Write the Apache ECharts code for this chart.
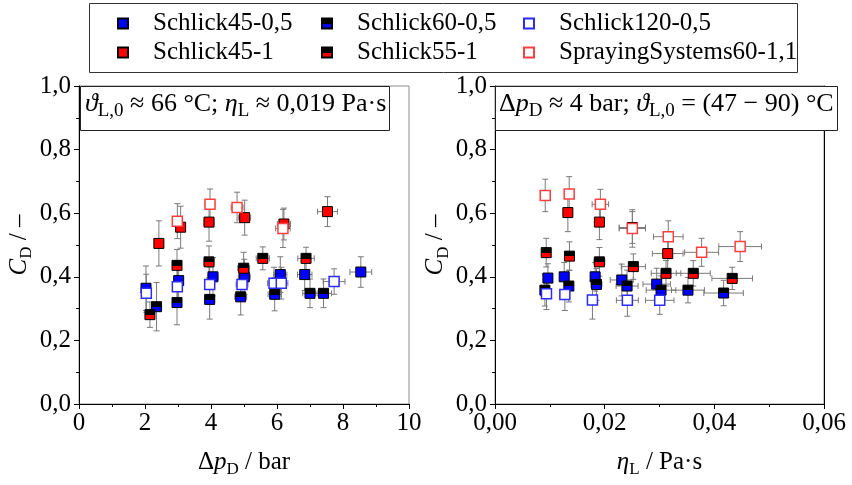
<!DOCTYPE html>
<html>
<head>
<meta charset="utf-8">
<script src="https://cdn.jsdelivr.net/npm/echarts@6/dist/echarts.min.js"></script>
<style>
  html, body { margin: 0; padding: 0; background: #fff; }
  #chart { width: 852px; height: 485px; }
</style>
</head>
<body>
<div id="chart"></div>
<script>
// Each point: [x, C_D, x uncertainty (±), C_D uncertainty (±)]

// Left panel: drag coefficient over pressure drop Δp_D in bar
const dp_S45_05 = [[2.03, 0.364, 0.10, 0.070], [3.02, 0.388, 0.12, 0.060], [4.06, 0.400, 0.15, 0.060], [5.01, 0.400, 0.18, 0.055], [6.10, 0.407, 0.20, 0.056], [6.84, 0.407, 0.22, 0.050], [8.54, 0.415, 0.33, 0.048]];
const dp_S60_05 = [[2.35, 0.306, 0.10, 0.076], [2.97, 0.319, 0.12, 0.070], [3.96, 0.329, 0.15, 0.062], [4.90, 0.337, 0.18, 0.057], [5.93, 0.345, 0.20, 0.052], [7.00, 0.348, 0.22, 0.045], [7.41, 0.348, 0.24, 0.045]];
const dp_S120_05 = [[2.04, 0.348, 0.10, 0.060], [2.98, 0.369, 0.12, 0.060], [3.96, 0.376, 0.15, 0.055], [4.94, 0.376, 0.18, 0.050], [5.91, 0.380, 0.20, 0.050], [6.13, 0.380, 0.20, 0.050], [7.73, 0.385, 0.33, 0.040]];
const dp_S45_1 = [[2.42, 0.505, 0.12, 0.071], [3.08, 0.556, 0.12, 0.066], [3.94, 0.572, 0.15, 0.060], [5.02, 0.586, 0.18, 0.055], [6.21, 0.566, 0.20, 0.050], [7.53, 0.605, 0.30, 0.047]];
const dp_S55_1 = [[2.15, 0.281, 0.10, 0.040], [2.97, 0.436, 0.12, 0.050], [3.94, 0.447, 0.15, 0.050], [4.99, 0.427, 0.18, 0.050], [5.57, 0.458, 0.20, 0.036], [6.88, 0.458, 0.25, 0.035]];
const dp_SS60_11 = [[2.98, 0.575, 0.12, 0.055], [3.97, 0.628, 0.15, 0.048], [4.79, 0.618, 0.18, 0.048], [6.18, 0.552, 0.22, 0.060]];

// Right panel: drag coefficient over liquid viscosity η_L in Pa·s
const eta_S45_05 = [[0.00965, 0.396, 0.0003, 0.045], [0.01262, 0.400, 0.0004, 0.045], [0.01826, 0.400, 0.0008, 0.045], [0.02312, 0.390, 0.0021, 0.050], [0.02949, 0.377, 0.0025, 0.050]];
const eta_S60_05 = [[0.00910, 0.358, 0.0003, 0.050], [0.01347, 0.371, 0.0004, 0.050], [0.01850, 0.376, 0.0010, 0.050], [0.02409, 0.371, 0.0020, 0.050], [0.03028, 0.358, 0.0027, 0.045], [0.03519, 0.358, 0.0030, 0.040], [0.04169, 0.349, 0.0036, 0.040]];
const eta_S120_05 = [[0.00939, 0.347, 0.0003, 0.050], [0.01274, 0.344, 0.0004, 0.050], [0.01777, 0.327, 0.0008, 0.060], [0.02414, 0.326, 0.0020, 0.050], [0.03004, 0.326, 0.0026, 0.044]];
const eta_S45_1 = [[0.01329, 0.602, 0.0004, 0.060], [0.01904, 0.572, 0.0008, 0.055], [0.02505, 0.555, 0.0024, 0.050], [0.03150, 0.473, 0.0028, 0.050]];
const eta_S55_1 = [[0.00934, 0.476, 0.0003, 0.045], [0.01358, 0.465, 0.0004, 0.045], [0.01904, 0.447, 0.0010, 0.045], [0.02523, 0.432, 0.0022, 0.040], [0.03119, 0.411, 0.0027, 0.040], [0.03616, 0.411, 0.0031, 0.040], [0.04326, 0.395, 0.0037, 0.035]];
const eta_SS60_11 = [[0.00916, 0.656, 0.0003, 0.051], [0.01353, 0.660, 0.0004, 0.055], [0.01922, 0.628, 0.0015, 0.047], [0.02505, 0.552, 0.0024, 0.059], [0.03160, 0.526, 0.0027, 0.050], [0.03768, 0.477, 0.0031, 0.044], [0.04471, 0.495, 0.0039, 0.047]];

const nozzles = ['Schlick45-0,5', 'Schlick60-0,5', 'Schlick120-0,5', 'Schlick45-1', 'Schlick55-1', 'SprayingSystems60-1,1'];
const leftData = [dp_S45_05, dp_S60_05, dp_S120_05, dp_S45_1, dp_S55_1, dp_SS60_11];
const rightData = [eta_S45_05, eta_S60_05, eta_S120_05, eta_S45_1, eta_S55_1, eta_SS60_11];

const dpTicks = { min: 0, max: 10, interval: 2 };
const etaTicks = { min: 0, max: 0.06, interval: 0.02 };
const cdTicks = { min: 0, max: 1, interval: 0.2 };

const SERIF = 'Liberation Serif';
const BLUE = '#0000ff';
const RED = '#ff0000';

// upper half black, lower half coloured
function halfFill(c) {
  return {
    type: 'linear', x: 0, y: 0, x2: 0, y2: 1,
    colorStops: [
      { offset: 0, color: '#000' }, { offset: 0.52, color: '#000' },
      { offset: 0.52, color: c }, { offset: 1, color: c }
    ]
  };
}

const markerStyles = [
  { color: BLUE, borderColor: '#000', borderWidth: 1 },
  { color: halfFill(BLUE), borderColor: '#000', borderWidth: 1 },
  { color: '#fff', borderColor: '#2b2bff', borderWidth: 1.5 },
  { color: RED, borderColor: '#000', borderWidth: 1 },
  { color: halfFill(RED), borderColor: '#000', borderWidth: 1 },
  { color: '#fff', borderColor: '#ff4040', borderWidth: 1.5 }
];

// error bars with end caps
function renderErr(params, api) {
  const x = api.value(0), y = api.value(1), ex = api.value(2), ey = api.value(3);
  const c = api.coord([x, y]);
  const t = api.coord([x, y + ey]), b = api.coord([x, y - ey]);
  const l = api.coord([x - ex, y]), r = api.coord([x + ex, y]);
  const cap = 3;
  const st = { stroke: '#7a7a7a', lineWidth: 1 };
  const kids = [
    { type: 'line', shape: { x1: c[0], y1: t[1], x2: c[0], y2: b[1] }, style: st },
    { type: 'line', shape: { x1: c[0] - cap, y1: t[1], x2: c[0] + cap, y2: t[1] }, style: st },
    { type: 'line', shape: { x1: c[0] - cap, y1: b[1], x2: c[0] + cap, y2: b[1] }, style: st }
  ];
  if (r[0] - l[0] > 4) {
    kids.push(
      { type: 'line', shape: { x1: l[0], y1: c[1], x2: r[0], y2: c[1] }, style: st },
      { type: 'line', shape: { x1: l[0], y1: c[1] - cap, x2: l[0], y2: c[1] + cap }, style: st },
      { type: 'line', shape: { x1: r[0], y1: c[1] - cap, x2: r[0], y2: c[1] + cap }, style: st }
    );
  }
  return { type: 'group', children: kids };
}

const series = [];
[leftData, rightData].forEach((sets, g) => {
  sets.forEach((d, i) => {
    series.push({
      type: 'custom', name: 'err' + g + '_' + i, xAxisIndex: g, yAxisIndex: g,
      renderItem: renderErr, data: d, z: 2, silent: true,
      encode: { x: 0, y: 1 }
    });
  });
  sets.forEach((d, i) => {
    series.push({
      type: 'scatter', name: nozzles[i], xAxisIndex: g, yAxisIndex: g,
      symbol: 'rect', symbolSize: 10, data: d.map(p => [p[0], p[1]]),
      itemStyle: Object.assign({ opacity: 1 }, markerStyles[i]), z: 3
    });
  });
});

// rich text styles: normal, italic symbol, subscript
function richSet(main, sub, lh) {
  return {
    n: { fontFamily: SERIF, fontSize: main, lineHeight: lh, color: '#000' },
    i: { fontFamily: SERIF, fontSize: main, lineHeight: lh, fontStyle: 'italic', color: '#000' },
    s: { fontFamily: SERIF, fontSize: sub, lineHeight: lh, verticalAlign: 'bottom', color: '#000' }
  };
}
const richAxis = richSet(25, 17, 32);
const richNote = richSet(26, 19, 33);

function numLabel(dec) {
  return v => v.toFixed(dec).replace('.', ',');
}

function xAxisFor(g, ticks, dec, name) {
  return Object.assign({
    type: 'value', gridIndex: g,
    name: name, nameLocation: 'middle', nameGap: 42,
    nameTextStyle: { fontFamily: SERIF, fontSize: 25, rich: richAxis },
    axisLine: { show: true, onZero: false, lineStyle: { color: '#000', width: 1 } },
    axisTick: { show: true, length: 5, lineStyle: { color: '#000' } },
    minorTick: { show: true, splitNumber: 2, length: 3, lineStyle: { color: '#000' } },
    splitLine: { show: false },
    axisLabel: { fontFamily: SERIF, fontSize: 25, color: '#000', margin: 7, formatter: numLabel(dec), hideOverlap: false }
  }, ticks);
}

function yAxisFor(g, gap) {
  return Object.assign({
    type: 'value', gridIndex: g,
    name: '{i|C}{s|D}{n| / –}', nameLocation: 'middle', nameGap: gap,
    nameTextStyle: { fontFamily: SERIF, fontSize: 25, rich: richAxis },
    axisLine: { show: true, onZero: false, lineStyle: { color: '#000', width: 1 } },
    axisTick: { show: true, length: 5, lineStyle: { color: '#000' } },
    minorTick: { show: true, splitNumber: 2, length: 3, lineStyle: { color: '#000' } },
    splitLine: { show: false },
    axisLabel: { fontFamily: SERIF, fontSize: 25, color: '#000', margin: 8, formatter: numLabel(1) }
  }, cdTicks);
}

// legend in three columns of two entries
function legendCol(names, left) {
  return {
    orient: 'vertical', left: left, top: 6, itemGap: 4,
    itemWidth: 10, itemHeight: 10, icon: 'rect',
    data: names,
    textStyle: { fontFamily: SERIF, fontSize: 25, color: '#000', padding: [0, 0, 8, 20] }
  };
}

const option = {
  animation: false,
  backgroundColor: '#fff',
  textStyle: { fontFamily: SERIF },
  grid: [
    { left: 79, right: 443, top: 86, bottom: 81, show: true, borderColor: '#8c8c8c', borderWidth: 1, backgroundColor: 'transparent' },
    { left: 495, right: 28, top: 86, bottom: 81, show: true, borderColor: '#8c8c8c', borderWidth: 1, backgroundColor: 'transparent' }
  ],
  xAxis: [
    xAxisFor(0, dpTicks, 0, '{n|Δ}{i|p}{s|D}{n| / bar}'),
    xAxisFor(1, etaTicks, 2, '{i|η}{s|L}{n| / Pa·s}')
  ],
  yAxis: [
    yAxisFor(0, 44),
    yAxisFor(1, 42),
    Object.assign({
      type: 'value', gridIndex: 1, position: 'right',
      axisLine: { show: true, onZero: false, lineStyle: { color: '#000' } },
      axisTick: { show: false }, axisLabel: { show: false }, splitLine: { show: false }
    }, cdTicks)
  ],
  legend: [
    legendCol(['Schlick45-0,5', 'Schlick45-1'], 112),
    legendCol(['Schlick60-0,5', 'Schlick55-1'], 316),
    legendCol(['Schlick120-0,5', 'SprayingSystems60-1,1'], 518)
  ],
  graphic: [
    { type: 'rect', left: 89, top: 3, z: 0, shape: { width: 708, height: 69 }, style: { fill: '#fff', stroke: '#333', lineWidth: 1 } },
    { type: 'rect', left: 80, top: 86, z: 10, shape: { width: 309, height: 44 }, style: { fill: '#fff', stroke: '#222', lineWidth: 1 } },
    { type: 'text', left: 85, top: 91, z: 11, style: { text: '{i|ϑ}{s|L,0}{n| ≈ 66 °C; }{i|η}{s|L}{n| ≈ 0,019 Pa·s}', fontFamily: SERIF, fontSize: 26, rich: richNote } },
    { type: 'rect', left: 495, top: 86, z: 10, shape: { width: 342, height: 44 }, style: { fill: '#fff', stroke: '#222', lineWidth: 1 } },
    { type: 'text', left: 499, top: 91, z: 11, style: { text: '{n|Δ}{i|p}{s|D}{n| ≈ 4 bar; }{i|ϑ}{s|L,0}{n| = (47 − 90) °C}', fontFamily: SERIF, fontSize: 26, rich: richNote } }
  ],
  series: series
};

const chart = echarts.init(document.getElementById('chart'), null, { renderer: 'canvas' });
chart.setOption(option);
</script>
</body>
</html>
